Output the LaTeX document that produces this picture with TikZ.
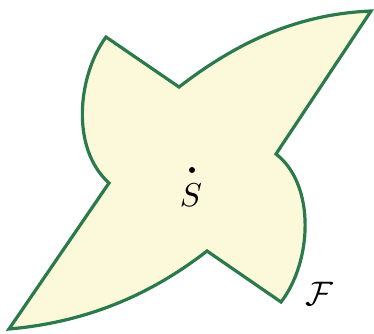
\documentclass[tikz,border=0pt]{standalone}
\usepackage{graphicx}
\begin{document}
\begin{tikzpicture}[x=1pt,y=-1pt,
  lbl/.style={inner sep=0pt}]
\definecolor{fg}{HTML}{2A7A4C}
\definecolor{bg}{HTML}{FCF9DB}
\useasboundingbox (0,0) rectangle (374,333);
\coordinate (tl) at (106,37);
\coordinate (nt) at (179,87);
\coordinate (tr) at (371,11);
\coordinate (nr) at (276,154);
\coordinate (br) at (281,302);
\coordinate (nb) at (207,251);
\coordinate (bl) at (9,329);
\coordinate (nl) at (109,183);
\draw[draw=fg, fill=bg, line width=3.2pt, line join=miter]
  (tl) -- (nt) .. controls (240,40) and (300,14) .. (tr)
  -- (nr) .. controls (316,185) and (312,262) .. (br)
  -- (nb) .. controls (144,300) and (78,323) .. (bl)
  -- (nl) .. controls (70,148) and (78,75) .. (tl) -- cycle;
\fill (192,170) circle (3pt) coordinate (dot);
\node[lbl] (s) at (191,195) {\scalebox{3.3}{$S$}};
\node[lbl] (f) at (319,294) {\scalebox{3.4}{$\mathcal{F}$}};
\end{tikzpicture}
\end{document}
